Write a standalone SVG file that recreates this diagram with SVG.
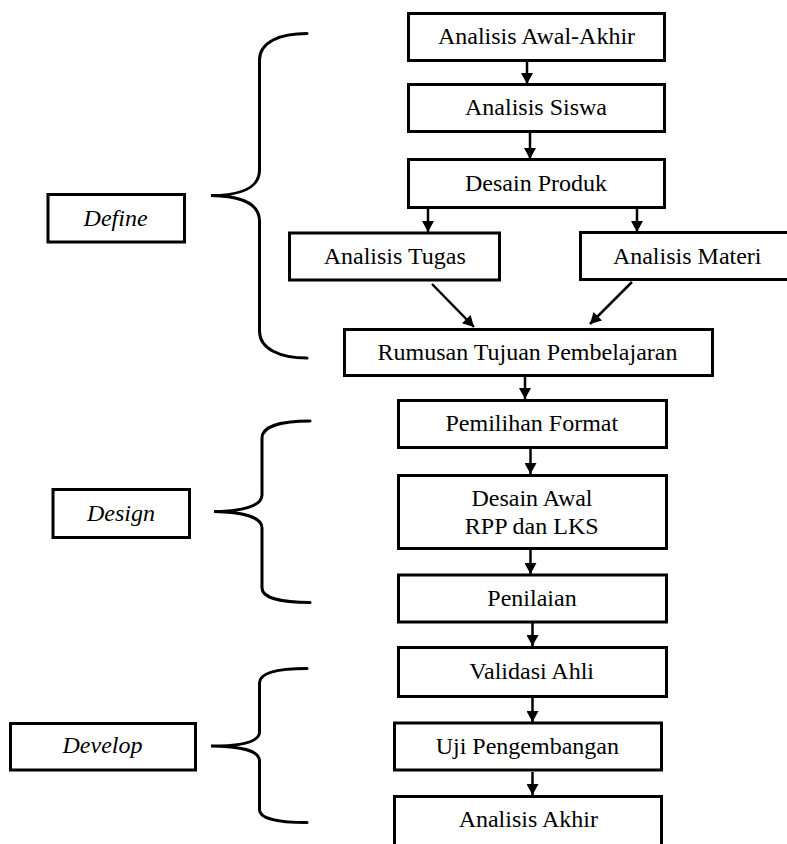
<svg xmlns="http://www.w3.org/2000/svg" width="787" height="844" viewBox="0 0 787 844">
<style>
  .box{fill:#fff;stroke:#000;stroke-width:3}
  .brace{fill:none;stroke:#000;stroke-width:3;stroke-linecap:round}
  .arr{stroke:#000;stroke-width:2.5;fill:none;marker-end:url(#ah)}
</style>
<defs>
  <marker id="ah" markerUnits="userSpaceOnUse" markerWidth="14" markerHeight="12" viewBox="0 0 11 12" refX="11" refY="6" orient="auto">
    <path d="M0,0 L11,6 L0,12 Z" fill="#000"/>
  </marker>
</defs>
<rect width="787" height="844" fill="#fff"/>
<g id="connectors">
  <line class="arr" x1="527" y1="62" x2="527" y2="84"/>
  <line class="arr" x1="530" y1="133" x2="530" y2="159"/>
  <line class="arr" x1="428" y1="208" x2="428" y2="232"/>
  <line class="arr" x1="637" y1="208" x2="637" y2="232"/>
  <line class="arr" x1="432" y1="284" x2="474" y2="327"/>
  <line class="arr" x1="632" y1="282" x2="590" y2="324"/>
  <line class="arr" x1="525" y1="377" x2="525" y2="399"/>
  <line class="arr" x1="530.5" y1="449" x2="530.5" y2="474"/>
  <line class="arr" x1="530.5" y1="550" x2="530.5" y2="574"/>
  <line class="arr" x1="532.5" y1="623" x2="532.5" y2="646"/>
  <line class="arr" x1="532.5" y1="698" x2="532.5" y2="722"/>
  <line class="arr" x1="532.5" y1="772" x2="532.5" y2="795"/>
</g>
<g id="brace-define">
  <path class="brace" d="M307,33.5 C280,33.5 259.5,42 259.5,60 L259.5,170 C259.5,188 240,195.5 211,195.5 C240,196 259.5,203 259.5,221 L259.5,331 C259.5,349 280,358 307,358"/>
</g>
<g id="brace-design">
  <path class="brace" d="M310,421 C282,421 262,426 262,438 L262,495 C262,506 242,511.5 214,511.5 C242,512 262,517 262,528 L262,588 C262,598 282,602.5 310,602.5"/>
</g>
<g id="brace-develop">
  <path class="brace" d="M307,668.5 C280,668.5 259.5,672 259.5,683 L259.5,732 C259.5,742 240,746 211,746 C240,746.5 259.5,750 259.5,761 L259.5,810 C259.5,819 280,822.5 307,822.5"/>
</g>
<g id="nodes" font-family="Liberation Serif" font-size="24" text-anchor="middle" fill="#000">
<g id="define"><rect class="box" x="48" y="194.5" width="136.5" height="47.5"/><text font-family="Liberation Serif" font-style="italic" x="115.6" y="226">Define</text></g>
<g id="design"><rect class="box" x="53" y="489.5" width="136.5" height="48"/><text font-family="Liberation Serif" font-style="italic" x="121" y="520.7">Design</text></g>
<g id="develop"><rect class="box" x="10.5" y="723.5" width="185" height="46.5"/><text font-family="Liberation Serif" font-style="italic" x="102.5" y="753.3">Develop</text></g>
<g id="n1"><rect class="box" x="408.5" y="13.5" width="256" height="47"/><text font-family="Liberation Serif" x="536.5" y="44.3">Analisis Awal-Akhir</text></g>
<g id="n2"><rect class="box" x="408.5" y="84.5" width="256" height="47"/><text font-family="Liberation Serif" x="536" y="115">Analisis Siswa</text></g>
<g id="n3"><rect class="box" x="408.5" y="159.5" width="256" height="48"/><text font-family="Liberation Serif" x="536" y="190.7">Desain Produk</text></g>
<g id="n4"><rect class="box" x="289.5" y="233" width="210" height="47"/><text font-family="Liberation Serif" x="394.7" y="264">Analisis Tugas</text></g>
<g id="n5"><rect class="box" x="580.5" y="232.5" width="220" height="47"/><text font-family="Liberation Serif" x="687.2" y="264">Analisis Materi</text></g>
<g id="n6"><rect class="box" x="344.5" y="329.5" width="368" height="46"/><text font-family="Liberation Serif" x="527.5" y="360">Rumusan Tujuan Pembelajaran</text></g>
<g id="n7"><rect class="box" x="398.5" y="400.5" width="268" height="47"/><text font-family="Liberation Serif" x="531.8" y="430.7">Pemilihan Format</text></g>
<g id="n8"><rect class="box" x="398.5" y="475.5" width="268" height="73"/><text font-family="Liberation Serif" x="532" y="506">Desain Awal</text><text font-family="Liberation Serif" x="531.7" y="534">RPP dan LKS</text></g>
<g id="n9"><rect class="box" x="398.5" y="575" width="268" height="47"/><text font-family="Liberation Serif" x="532" y="606">Penilaian</text></g>
<g id="n10"><rect class="box" x="398.5" y="647.5" width="268" height="49"/><text font-family="Liberation Serif" x="531.7" y="679.3">Validasi Ahli</text></g>
<g id="n11"><rect class="box" x="394.5" y="723" width="267" height="47"/><text font-family="Liberation Serif" x="527.3" y="754">Uji Pengembangan</text></g>
<g id="n12"><rect class="box" x="394.5" y="796.5" width="267" height="60"/><text font-family="Liberation Serif" x="528.3" y="827.3">Analisis Akhir</text></g>
</g>
</svg>
